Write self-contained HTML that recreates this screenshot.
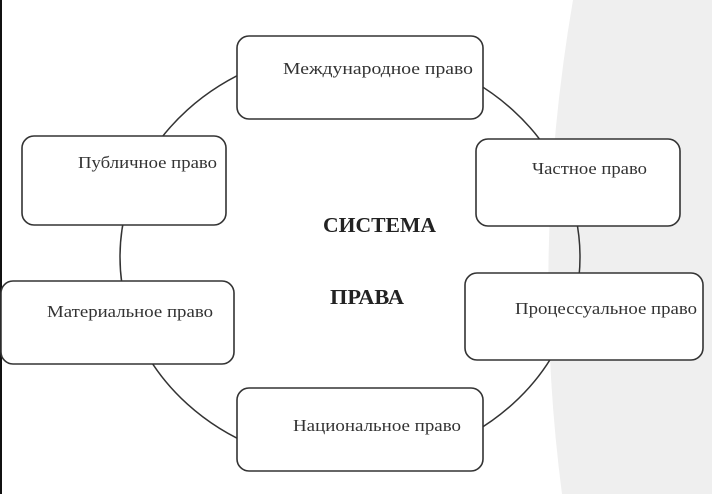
<!DOCTYPE html>
<html><head><meta charset="utf-8"><style>
body{margin:0;width:712px;height:494px;overflow:hidden;background:#fff;font-family:"Liberation Serif",serif;}
svg{position:absolute;left:0;top:0}
</style></head><body>
<svg width="712" height="494" viewBox="0 0 712 494">
<path d="M573 0 Q530 250 562 494 L712 494 L712 0 Z" fill="#efefef"/>
<rect x="0" y="0" width="2" height="494" fill="#111"/>
<ellipse cx="350" cy="257" rx="230" ry="208" fill="none" stroke="#333" stroke-width="1.5"/>
<g fill="#fff" stroke="#333" stroke-width="1.6">
<rect x="237" y="36" width="246" height="83" rx="12"/>
<rect x="22" y="136" width="204" height="89" rx="12"/>
<rect x="1" y="281" width="233" height="83" rx="12"/>
<rect x="237" y="388" width="246" height="83" rx="12"/>
<rect x="476" y="139" width="204" height="87" rx="12"/>
<rect x="465" y="273" width="238" height="87" rx="12"/>
</g>
<g font-family="Liberation Serif, serif" font-size="17" fill="#333" lengthAdjust="spacingAndGlyphs">
<text x="283" y="74" textLength="190" lengthAdjust="spacingAndGlyphs">Международное право</text>
<text x="78" y="168" textLength="139" lengthAdjust="spacingAndGlyphs">Публичное право</text>
<text x="47" y="317" textLength="166" lengthAdjust="spacingAndGlyphs">Материальное право</text>
<text x="293" y="431" textLength="168" lengthAdjust="spacingAndGlyphs">Национальное право</text>
<text x="532" y="174" textLength="115" lengthAdjust="spacingAndGlyphs">Частное право</text>
<text x="515" y="314" textLength="182" lengthAdjust="spacingAndGlyphs">Процессуальное право</text>
</g>
<g font-family="Liberation Serif, serif" font-size="21" font-weight="bold" fill="#222">
<text x="323" y="232" textLength="113" lengthAdjust="spacingAndGlyphs">СИСТЕМА</text>
<text x="330" y="304" textLength="74" lengthAdjust="spacingAndGlyphs">ПРАВА</text>
</g>
</svg>
</body></html>
